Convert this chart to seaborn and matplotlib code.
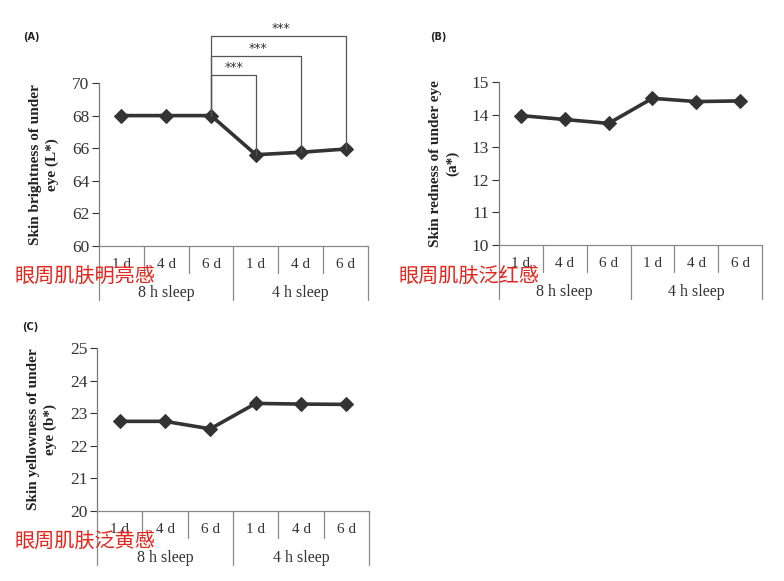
import numpy as np
import pandas as pd
import seaborn as sns
import matplotlib.pyplot as plt

# datos
days = ['1 d', '4 d', '6 d', '1 d', '4 d', '6 d']
groups = ['8 h sleep', '4 h sleep']
brightness = [68.0, 68.0, 68.0, 65.6, 65.75, 65.95]
redness = [13.97, 13.85, 13.73, 14.5, 14.4, 14.42]
yellowness = [22.75, 22.75, 22.52, 23.3, 23.28, 23.27]
sig_pairs = [(2, 3), (2, 4), (2, 5)]
sig_heights = [70.5, 71.65, 72.9]
sig_labels = ['***', '***', '***']

sns.set_theme(style='white')
plt.rcParams['font.family'] = ['Liberation Serif', 'DejaVu Serif']

W, H = 784, 581
fig = plt.figure(figsize=(W / 100, H / 100), dpi=100)


def make_axes(left, right, top, bottom):
    return fig.add_axes([left / W, 1 - bottom / H, (right - left) / W, (bottom - top) / H])


def draw_panel(ax, values, ylim, ylabel, letter, cn_text, letter_xy, cn_xy):
    df = pd.DataFrame({'pos': np.arange(len(values)), 'val': values})
    sns.lineplot(data=df, x='pos', y='val', ax=ax, color='#333333', linewidth=2.6,
                 marker='D', markersize=7, markeredgecolor='#333333')
    ax.set_xlim(-0.5, len(values) - 0.5)
    ax.set_ylim(*ylim)
    ax.set_yticks(np.arange(ylim[0], ylim[1] + 1, 1 if ylim[1] - ylim[0] <= 5 else 2))
    ax.set_xticks([])
    ax.set_xlabel('')
    ax.set_ylabel(ylabel, fontsize=11, fontweight='bold', color='#222222', labelpad=9,
                  linespacing=1.4)
    ax.tick_params(axis='y', labelsize=12.5, colors='#333333', length=5, width=0.8,
                   direction='out', left=True, pad=2)
    for s in ['top', 'right']:
        ax.spines[s].set_visible(False)
    ax.spines['left'].set_color('#777777')
    ax.spines['bottom'].set_color('#888888')
    ax.spines['left'].set_linewidth(0.9)
    ax.spines['bottom'].set_linewidth(0.9)

    # tabla de categorias debajo del eje
    tr = ax.get_xaxis_transform()
    n = len(values)
    for b in np.arange(-0.5, n, 1.0):
        full = b in (-0.5, 2.5, n - 0.5)
        ax.plot([b, b], [0, -0.33 if full else -0.165], transform=tr, color='#888888',
                lw=0.9, clip_on=False)
    for i, d in enumerate(days):
        ax.text(i, -0.115, d, transform=tr, ha='center', va='center', fontsize=11,
                color='#333333')
    for g, name in enumerate(groups):
        ax.text(1 + 3 * g, -0.29, name, transform=tr, ha='center', va='center',
                fontsize=11.5, color='#333333')

    fig.text(letter_xy[0] / W, 1 - letter_xy[1] / H, letter, fontsize=7, fontweight='bold',
             family='DejaVu Sans', va='center', color='#222222')
    fig.text(cn_xy[0] / W, 1 - cn_xy[1] / H, cn_text, fontsize=14.5, color='#e6251d',
             family=['Noto Sans CJK SC', 'DejaVu Sans'], va='center')


axA = make_axes(99, 368, 83, 246)
draw_panel(axA, brightness, (60, 70), 'Skin brightness of under\neye (L*)', '(A)',
           '眼周肌肤明亮感', (23, 37), (15, 276))

# corchetes de significancia
for (a, b), h, lab in zip(sig_pairs, sig_heights, sig_labels):
    axA.plot([a, a, b, b], [brightness[a], h, h, brightness[b]], color='#555555', lw=0.9,
             clip_on=False)
    axA.text(a + (b - a) * 0.52, h + 0.05, lab, ha='center', va='bottom', fontsize=9,
             family='DejaVu Sans', color='#333333', clip_on=False)

axB = make_axes(499, 762, 82, 245)
draw_panel(axB, redness, (10, 15), 'Skin redness of under eye\n(a*)', '(B)',
           '眼周肌肤泛红感', (430, 37), (399, 276))

axC = make_axes(97, 369, 348, 511)
draw_panel(axC, yellowness, (20, 25), 'Skin yellowness of under\neye (b*)', '(C)',
           '眼周肌肤泛黄感', (22, 327), (14, 541))

fig.savefig('out.png', dpi=100, facecolor='white')
